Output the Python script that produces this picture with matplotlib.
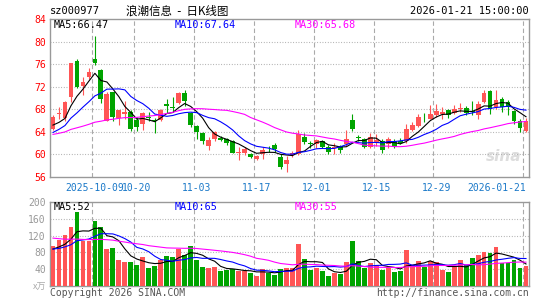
import matplotlib
matplotlib.use("Agg")
import matplotlib.pyplot as plt
import numpy as np
import pandas as pd

# ---- data (for sz000977) ----
dates = pd.bdate_range("2025-09-22", "2026-01-21")
holidays = pd.to_datetime(["2025-10-01", "2025-10-02", "2025-10-03", "2025-10-06",
                           "2025-10-07", "2025-10-08", "2026-01-01", "2026-01-02"])
dates = dates[~dates.isin(holidays)]

opens = [64.5, 67.2, 66.5, 70.2, 76.6, 72.2, 73.7, 77.0, 74.9, 66.0,
         71.0, 66.5, 67.2, 67.6, 66.1, 65.4, 66.6, 66.1, 66.1, 69.0,
         68.3, 69.2, 70.8, 67.3, 65.0, 63.8, 61.5, 62.7, 63.0, 62.7,
         62.4, 60.3, 60.3, 60.1, 59.2, 60.1, 61.0, 61.7, 59.6, 58.3,
         59.9, 60.1, 63.1, 62.0, 61.8, 62.3, 61.4, 61.1, 61.5, 61.8,
         66.1, 63.0, 62.8, 61.4, 62.1, 62.3, 61.8, 62.4, 62.3, 62.3,
         64.4, 65.1, 66.5, 66.3, 66.9, 67.1, 67.9, 67.3, 68.1, 68.2,
         67.6, 67.0, 69.3, 71.2, 68.4, 69.9, 69.3, 67.7, 66.0, 64.1]
highs = [67.0, 68.4, 69.4, 76.2, 77.0, 73.7, 75.3, 80.9, 75.1, 71.1,
         71.1, 67.9, 69.4, 67.9, 66.7, 67.5, 67.5, 66.5, 68.0, 69.9,
         70.2, 71.1, 71.5, 67.6, 65.2, 64.0, 63.1, 64.2, 63.3, 63.0,
         62.5, 61.4, 61.3, 60.3, 59.9, 61.3, 61.5, 62.1, 60.1, 59.8,
         60.6, 64.4, 63.8, 62.3, 62.7, 62.6, 61.6, 62.1, 61.7, 64.4,
         67.2, 63.4, 63.0, 63.8, 63.7, 62.7, 63.1, 62.7, 63.0, 65.4,
         65.7, 67.2, 67.3, 68.8, 69.0, 68.4, 68.1, 68.7, 69.2, 68.5,
         69.4, 69.5, 71.5, 71.5, 71.5, 70.1, 69.6, 67.9, 66.3, 66.5]
lows = [64.3, 66.2, 66.0, 69.3, 71.7, 70.6, 73.4, 75.8, 69.1, 65.9,
        66.0, 65.3, 66.3, 64.1, 64.1, 64.3, 66.0, 63.8, 65.9, 67.3,
        67.6, 68.9, 68.5, 64.9, 62.7, 61.8, 60.8, 62.3, 62.3, 61.7,
        60.2, 59.1, 59.9, 59.3, 59.0, 59.2, 60.4, 60.5, 57.5, 56.9,
        59.6, 59.9, 61.8, 61.2, 61.1, 61.1, 60.1, 60.1, 60.3, 61.5,
        64.2, 62.3, 61.2, 61.1, 61.5, 60.3, 61.1, 61.1, 61.9, 62.0,
        64.1, 64.9, 65.7, 66.2, 66.6, 66.3, 66.5, 67.1, 67.5, 66.9,
        66.9, 66.2, 69.1, 67.2, 68.1, 67.5, 66.9, 65.4, 64.0, 64.0]
closes = [66.6, 67.4, 69.3, 76.2, 72.0, 72.9, 74.6, 76.2, 69.8, 70.7,
          66.7, 67.8, 67.5, 64.5, 64.8, 67.3, 66.5, 65.9, 67.9, 68.6,
          68.2, 70.9, 69.5, 65.3, 64.0, 62.4, 62.5, 63.9, 62.5, 62.1,
          60.3, 60.5, 61.0, 59.5, 59.7, 60.8, 60.9, 60.9, 57.8, 59.1,
          60.3, 63.6, 62.2, 61.9, 62.5, 61.4, 60.5, 61.4, 60.8, 62.7,
          64.5, 62.9, 61.4, 63.1, 62.5, 60.7, 62.8, 61.4, 62.0, 64.5,
          65.3, 66.6, 66.4, 67.1, 67.7, 67.6, 66.9, 68.1, 68.3, 67.3,
          67.5, 69.0, 70.9, 68.1, 69.6, 68.4, 68.4, 65.9, 64.7, 66.0]
volumes = [96, 110, 122, 141, 177, 106, 108, 155, 141, 89,
           91, 63, 58, 58, 51, 68, 42, 48, 62, 72,
           68, 87, 74, 96, 63, 46, 44, 46, 35, 38,
           41, 35, 35, 32, 25, 41, 32, 27, 41, 42,
           44, 101, 65, 37, 42, 35, 25, 31, 28, 57,
           106, 60, 42, 54, 51, 39, 45, 33, 35, 86,
           49, 60, 45, 60, 57, 37, 33, 45, 63, 49,
           66, 74, 82, 78, 92, 55, 55, 63, 42, 47]

# warm-up history before the window, only used so the MA lines start where they do
prior_close = [61.5, 62.0, 62.8, 63.5, 64.2, 64.8, 65.0, 64.5, 63.8, 63.2,
               63.0, 63.6, 64.1, 64.0, 63.5, 63.2, 63.0, 62.9, 62.6, 62.3,
               62.0, 62.5, 63.0, 62.8, 62.7, 65.0, 65.8, 65.0, 63.6]
prior_vol = [150, 160, 140, 170, 130, 120, 145, 135, 110, 125,
             140, 115, 130, 105, 120, 125, 100, 115, 125, 80,
             95, 85, 90, 80, 90, 85, 90, 80, 89]

tick_dates = ["2025-10-09", "2025-10-20", "2025-11-03", "2025-11-17",
              "2025-12-01", "2025-12-15", "2025-12-29", "2026-01-21"]
tick_labels = ["2025-10-09", "10-20", "11-03", "11-17", "12-01", "12-15", "12-29", "2026-01-21"]
price_ticks = [56, 60, 64, 68, 72, 76, 80, 84]
vol_ticks = [40, 80, 120, 160, 200]
ma_price_text = ["MA5:66.47", "MA10:67.64", "MA30:65.68"]
ma_vol_text = ["MA5:52", "MA10:65", "MA30:55"]

# ---- styling ----
RED, GREEN = "#ff5555", "#00a400"
MA_COLORS = ["black", "#0000ff", "#ff00ff"]
GRID = "#aaaaaa"
MONO = "DejaVu Sans Mono"
W, H = 545, 300

n = len(closes)
x = np.arange(n)
o, h, l, c = map(np.array, (opens, highs, lows, closes))
up = c >= o
colors = np.where(up, RED, GREEN)

cs = pd.Series(prior_close + closes)
vs = pd.Series(prior_vol + volumes)
pma = [cs.rolling(k).mean().values[-n:] for k in (5, 10, 30)]
vma = [vs.rolling(k).mean().values[-n:] for k in (5, 10, 30)]

tick_idx = [int(np.where(dates == pd.Timestamp(d))[0][0]) for d in tick_dates]

fig = plt.figure(figsize=(W / 100, H / 100), dpi=100)
fig.patch.set_facecolor("white")


def px_axes(left, top, right, bottom):
    return fig.add_axes([left / W, 1 - bottom / H, (right - left) / W, (bottom - top) / H])


def frame(ax):
    for s in ax.spines.values():
        s.set_color("#999999")
        s.set_linewidth(1.0)
    ax.set_xlim(-0.5, n - 0.5)
    for t in tick_idx:
        ax.axvline(t - 0.45, color=GRID, lw=0.8, ls=(0, (4, 2.5)), zorder=1)
    ax.tick_params(axis="both", length=0)


axp = px_axes(50, 19, 529, 177)
axv = px_axes(50, 202, 529, 286)

# price panel
frame(axp)
axp.set_ylim(56, 84)
axp.set_yticks(price_ticks)
axp.set_yticklabels([str(t) for t in price_ticks], color="#ff0000", family=MONO, fontsize=7)
axp.tick_params(axis="y", pad=3)
for t in price_ticks[1:-1]:
    axp.axhline(t, color=GRID, lw=0.8, ls=(0, (0.8, 1.6)), zorder=1)
axp.vlines(x, l, h, colors=colors, lw=0.8, zorder=3)
axp.bar(x, np.maximum(np.abs(c - o), 0.12), bottom=np.minimum(o, c), width=0.8,
        color=colors, lw=0, zorder=3)
for ma, col in zip(pma, MA_COLORS):
    axp.plot(x, ma, color=col, lw=0.8, zorder=4)
axp.set_xticks(tick_idx)
axp.set_xticklabels(tick_labels, color="#1a78c8", family=MONO, fontsize=7)
axp.tick_params(axis="x", pad=4)
axp.get_xticklabels()[-1].set_ha("right")
axp.get_xticklabels()[-1].set_x(n - 0.7)
axp.text(0.985, 0.13, "sina", transform=axp.transAxes, ha="right", va="center",
         fontsize=11, fontweight="bold", style="italic", color="#dddddd", zorder=0)

# volume panel
frame(axv)
axv.set_ylim(0, 200)
axv.set_yticks(vol_ticks)
axv.set_yticklabels([str(t) for t in vol_ticks], color="#999999", family=MONO, fontsize=7)
axv.tick_params(axis="y", pad=3)
axv.set_xticks([])
for t in vol_ticks[:-1]:
    axv.axhline(t, color=GRID, lw=0.8, ls=(0, (0.8, 1.6)), zorder=1)
axv.bar(x, volumes, width=0.8, color=colors, lw=0, zorder=3)
for ma, col in zip(vma, MA_COLORS):
    axv.plot(x, ma, color=col, lw=0.8, zorder=4)


def ftext(px, py, s, **kw):
    fig.text(px / W, 1 - py / H, s, va="center", **kw)


ftext(50, 11, "sz000977", family=MONO, fontsize=7.5, color="black")
ftext(177, 11, "浪潮信息  -  日K线图", family=["Noto Sans CJK SC", "DejaVu Sans"],
      fontsize=8.3, color="black", ha="center")
ftext(529, 11, "2026-01-21 15:00:00", family=MONO, fontsize=7.5, color="black", ha="right")
for px, s, col in zip((54, 175, 295), ma_price_text, MA_COLORS):
    ftext(px, 24.5, s, family=MONO, fontsize=7.3, color=col)
for px, s, col in zip((54, 175, 295), ma_vol_text, MA_COLORS):
    ftext(px, 206.5, s, family=MONO, fontsize=7.3, color=col)
ftext(46, 287, "x万", family=["Noto Sans CJK SC", "DejaVu Sans"], fontsize=6.5,
      color="#aaaaaa", ha="right")
ftext(50, 293, "Copyright 2026 SINA.COM", family=MONO, fontsize=7, color="#555555")
ftext(529, 293, "http://finance.sina.com.cn", family=MONO, fontsize=7, color="#555555", ha="right")

fig.savefig("out.png", dpi=100, facecolor="white")
